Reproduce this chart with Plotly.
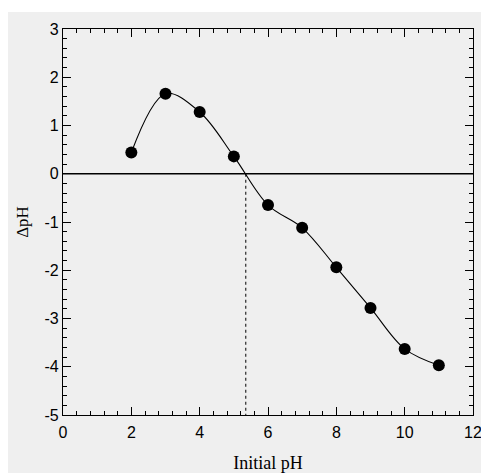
import plotly.graph_objects as go

initial_ph = [2, 3, 4, 5, 6, 7, 8, 9, 10, 11]
delta_ph = [0.44, 1.66, 1.28, 0.36, -0.65, -1.12, -1.94, -2.78, -3.63, -3.97]
zero_crossing_ph = 5.35
x_ticks = [0, 2, 4, 6, 8, 10, 12]
y_ticks = [3, 2, 1, 0, -1, -2, -3, -4, -5]

fig = go.Figure()

# vertical dotted line at the point of zero charge
fig.add_trace(go.Scatter(
    x=[zero_crossing_ph, zero_crossing_ph], y=[0, -5],
    mode="lines", line=dict(color="black", width=1, dash="dot"),
    hoverinfo="skip", showlegend=False))

# smooth fitted curve
fig.add_trace(go.Scatter(
    x=initial_ph, y=delta_ph, mode="lines",
    line=dict(color="black", width=1.1, shape="spline", smoothing=1.0),
    showlegend=False))

# data points
fig.add_trace(go.Scatter(
    x=initial_ph, y=delta_ph, mode="markers",
    marker=dict(color="black", size=12),
    showlegend=False))

# zero line across
fig.add_hline(y=0, line=dict(color="black", width=1.3))

# thin white strip at the top (scan border)
fig.add_shape(type="rect", xref="paper", yref="paper",
              x0=-60/410, x1=(481-55)/410, y0=1 + 17/386, y1=1 + 25/386,
              fillcolor="white", line=dict(width=0), layer="below")

axis_common = dict(
    showgrid=False, zeroline=False, showline=True, linecolor="black",
    linewidth=1.3, mirror="allticks", ticks="inside", tickcolor="black",
    ticklen=8, tickwidth=1.3, automargin=False,
    tickfont=dict(family="Liberation Sans, Arial", size=16, color="black"),
)

fig.update_xaxes(
    range=[0, 12], tickvals=x_ticks, ticktext=[str(v) for v in x_ticks],
    minor=dict(dtick=0.4, tick0=0, ticks="inside", ticklen=4,
               tickcolor="black", tickwidth=1),
    ticklabelstandoff=3,
    title=dict(text="Initial pH", standoff=17,
               font=dict(family="Liberation Serif, Times New Roman", size=18, color="black")),
    **axis_common)
fig.update_yaxes(
    range=[-5, 3], tickvals=y_ticks, ticktext=[str(v) for v in y_ticks],
    minor=dict(dtick=0.2, tick0=0, ticks="inside", ticklen=4,
               tickcolor="black", tickwidth=1),
    title=dict(text="ΔpH", standoff=11,
               font=dict(family="Liberation Serif, Times New Roman", size=17, color="black")),
    **axis_common)

fig.update_layout(
    width=481, height=465,
    margin=dict(l=55, r=16, t=21, b=58),
    paper_bgcolor="#efefef", plot_bgcolor="#efefef",
    showlegend=False,
)

fig.write_html("out.html")
